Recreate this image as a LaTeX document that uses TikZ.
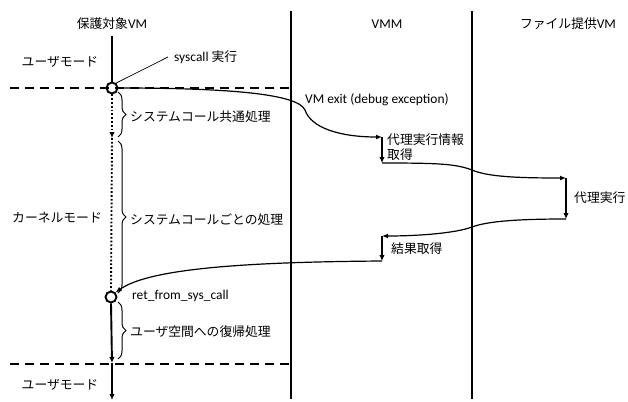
\documentclass[tikz,border=0pt]{standalone}
\usepackage{fontspec}
\setmainfont{Carlito}[Scale=1.05]
\newfontfamily\jp{Noto Sans CJK JP}
\usetikzlibrary{arrows.meta,decorations.pathreplacing}
\begin{document}
\begin{tikzpicture}[x=1pt,y=-1pt,
  lbl/.style={inner sep=0pt,font=\fontsize{12.8}{15}\selectfont},
  mainline/.style={line width=1.9pt},
  dotline/.style={line width=1.9pt,dash pattern=on 1.8pt off 2pt},
  modeline/.style={line width=1.7pt,dash pattern=on 9pt off 6pt},
  sepline/.style={line width=1.3pt},
  flow/.style={line width=1.2pt,-{Latex[length=6pt,width=5pt]}},
  vflow/.style={line width=1.9pt,-{Latex[length=6pt,width=5.5pt]}},
  tip/.style={-{Latex[length=6pt,width=5.5pt]}},
  bracestyle/.style={line width=1pt,decorate,decoration={brace,amplitude=8pt}},
  ring/.style={circle,draw,line width=1.9pt,minimum size=11pt,inner sep=0pt}
]
\useasboundingbox (0,0) rectangle (628,401);

% titles
\node[lbl] (t1) at (112,24) {{\jp 保護対象}VM};
\node[lbl] (t2) at (387,24) {VMM};
\node[lbl] (t3) at (568,24) {{\jp ファイル提供}VM};

% modes
\node[lbl] (m1) at (60,62) {\jp ユーザモード};
\node[lbl] (m2) at (57,218) {\jp カーネルモード};
\node[lbl] (m3) at (60,385) {\jp ユーザモード};

% separators
\coordinate (v1t) at (291,11); \coordinate (v1b) at (291,399);
\coordinate (v2t) at (472,11); \coordinate (v2b) at (472,399);
\draw[sepline] (v1t) -- (v1b);
\draw[sepline] (v2t) -- (v2b);

\coordinate (dl1) at (10,88); \coordinate (dr1) at (290,88);
\coordinate (dl2) at (10,364); \coordinate (dr2) at (290,364);
\draw[modeline] (dl1) -- (dr1);
\draw[modeline] (dl2) -- (dr2);

% protected VM timeline
\node[ring] (c1) at (112,88) {};
\node[ring] (c2) at (111,297) {};
\coordinate (p1top) at (112,36);
\coordinate (d1) at (112,138);
\coordinate (u2) at (112,363);
\coordinate (p1bot) at (112,400);
\draw[mainline] (p1top) -- (c1.north);
\draw[dotline,tip] (c1.south) -- (d1);
\draw[dotline] (d1) -- (c2.north);
\draw[mainline,tip] (c2.south) -- (u2);
\draw[mainline,tip] (u2) -- (p1bot);

% syscall label
\node[lbl,anchor=west] (sys) at (174,57) {syscall {\jp 実行}};
\draw[line width=0.7pt] (sys.west) ++(-6,0) coordinate (sysl) -- (c1.50);

% braces
\coordinate (b1t) at (118,92); \coordinate (b1b) at (118,137);
\coordinate (b2t) at (118,141); \coordinate (b2b) at (118,293);
\coordinate (b3t) at (118,302); \coordinate (b3b) at (118,359);
\draw[bracestyle] (b1t) -- (b1b);
\draw[bracestyle] (b2t) -- (b2b);
\draw[bracestyle] (b3t) -- (b3b);
\node[lbl,anchor=west] (l1) at (130,117) {\jp システムコール共通処理};
\node[lbl,anchor=west] (l2) at (130,220) {\jp システムコールごとの処理};
\node[lbl,anchor=west] (l3) at (130,332) {\jp ユーザ空間への復帰処理};
\node[lbl,anchor=west] (ret) at (132,296) {ret\_from\_sys\_call};

% VMM / file VM flow
\coordinate (a1) at (382,137);
\coordinate (a2) at (382,163);
\coordinate (f1) at (566,178);
\coordinate (f2) at (566,219);
\coordinate (r1) at (382,236);
\coordinate (r2) at (382,261);

\draw[flow] (c1.east) .. controls (230,88) and (298,94) .. (305,110)
   .. controls (311,128) and (340,137) .. (a1);
\draw[vflow] (a1) -- (a2);
\draw[flow] (a2) .. controls (440,163) and (456,164) .. (472,170)
   .. controls (488,177) and (520,178) .. (f1);
\draw[vflow] (f1) -- (f2);
\draw[flow] (f2) .. controls (520,219) and (488,221) .. (472,227)
   .. controls (456,233) and (420,236) .. (r1);
\draw[vflow] (r1) -- (r2);
\draw[flow] (r2) .. controls (250,262) and (150,268) .. (c2.north east);

\node[lbl,anchor=west] (vmexit) at (305,100) {VM exit (debug exception)};
\node[lbl,anchor=west,align=left] (info) at (387,147) {\jp 代理実行情報\\\jp 取得};
\node[lbl,anchor=west] (proxy) at (574,198) {\jp 代理実行};
\node[lbl,anchor=west] (res) at (391,249) {\jp 結果取得};
\end{tikzpicture}
\end{document}
